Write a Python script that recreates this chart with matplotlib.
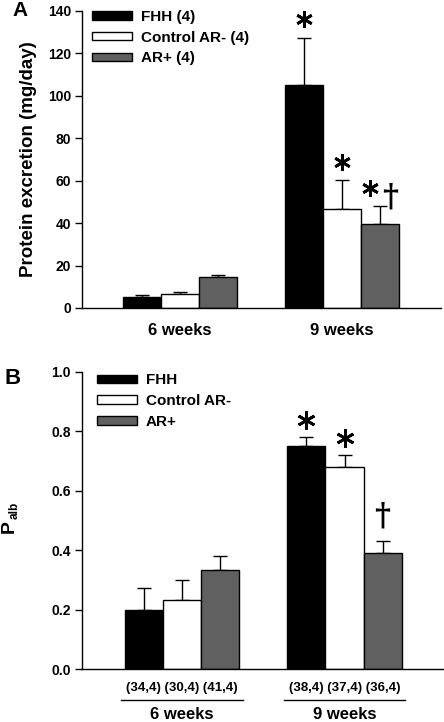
import matplotlib
matplotlib.use("Agg")
import matplotlib.pyplot as plt
import numpy as np

plt.rcParams['font.family'] = ['Liberation Sans', 'DejaVu Sans']
plt.rcParams['font.weight'] = 'bold'

groups = ["6 weeks", "9 weeks"]
series = ["FHH", "Control AR-", "AR+"]
colors = ["#000000", "#ffffff", "#606060"]

# Panel A: protein excretion (mg/day)
prot_mean = {"FHH": [5.2, 105.2], "Control AR-": [6.6, 46.7], "AR+": [14.6, 39.5]}
prot_err = {"FHH": [1.1, 22.3], "Control AR-": [0.9, 13.7], "AR+": [1.0, 8.6]}
prot_n = ["(4)", "(4)", "(4)"]

# Panel B: Palb
palb_mean = {"FHH": [0.20, 0.751], "Control AR-": [0.232, 0.681], "AR+": [0.333, 0.392]}
palb_err = {"FHH": [0.072, 0.029], "Control AR-": [0.068, 0.039], "AR+": [0.047, 0.039]}
palb_n = [["(34,4)", "(30,4)", "(41,4)"], ["(38,4)", "(37,4)", "(36,4)"]]

# significance marks (group index, series index, symbol)
marks_A = [(1, 0, "*"), (1, 1, "*"), (1, 2, "*"), (1, 2, "+")]
marks_B = [(1, 0, "*"), (1, 1, "*"), (1, 2, "+")]

W, H = 444, 722
fig = plt.figure(figsize=(W / 100, H / 100), dpi=100)

def px_axes(left, top, right, bottom):
    return fig.add_axes([left / W, 1 - bottom / H, (right - left) / W, (bottom - top) / H])

bw = 0.2346
offs = [-bw, 0, bw]
xg = np.arange(len(groups))

def style(ax):
    for s in ["top", "right"]:
        ax.spines[s].set_visible(False)
    for s in ["left", "bottom"]:
        ax.spines[s].set_linewidth(1.0)
    ax.set_xticks([])
    ax.tick_params(axis='y', direction='out', length=5, width=1, labelsize=10, pad=3)
    for t in ax.get_yticklabels():
        t.set_fontweight('bold')

def draw_bars(ax, means, errs, labels):
    handles = []
    for i, s in enumerate(series):
        b = ax.bar(xg + offs[i], means[s], bw, color=colors[i], edgecolor='black',
                   linewidth=1.0, label=labels[i], zorder=2)
        ax.errorbar(xg + offs[i], means[s], yerr=[np.zeros(2), errs[s]], fmt='none',
                    ecolor='black', elinewidth=1.0, capsize=5, capthick=1.0, zorder=1)
        handles.append(b)
    return handles

def draw_marks(ax, means, errs, marks, star_off, dag_off, ms):
    for g, si, sym in marks:
        s = series[si]
        top = means[s][g] + errs[s][g]
        x = g + offs[si]
        if sym == "*":
            xx = x
            if any(m[0] == g and m[1] == si and m[2] == "+" for m in marks):
                xx = x - 0.06
            ax.plot([xx], [top + star_off], marker=(6, 2, 0), ms=ms, mew=2.0,
                    color='black', clip_on=False, zorder=3)
        else:
            xx = x
            if any(m[0] == g and m[1] == si and m[2] == "*" for m in marks):
                xx = x + 0.06
            ax.text(xx, top + dag_off, "\u2020", ha='center', va='center',
                    fontsize=22, fontweight='bold', family='DejaVu Serif')

# ---------- Panel A ----------
axA = px_axes(82, 11, 441, 308)
hA = draw_bars(axA, prot_mean, prot_err, [f"{s} {n}" for s, n in zip(series, prot_n)])
axA.set_ylim(0, 140)
axA.set_xlim((82 - 180) / 162, (441 - 180) / 162)
axA.set_yticks(np.arange(0, 141, 20))
style(axA)
axA.set_ylabel("Protein excretion (mg/day)", fontsize=13.5, fontweight='bold', labelpad=8)
for g, name in enumerate(groups):
    axA.text(g, -10.5, name, ha='center', va='center', fontsize=12, fontweight='bold')
draw_marks(axA, prot_mean, prot_err, marks_A, 8.5, 4.0, 12)
legA = axA.legend(handles=hA, loc='upper left', bbox_to_anchor=(0.012, 1.025), frameon=False,
                  prop={'weight': 'bold', 'size': 11}, handlelength=2.6, handleheight=0.5,
                  handletextpad=0.6, labelspacing=0.45, borderaxespad=0)
fig.text(12 / W, 1 - 11 / H, "A", fontsize=15, fontweight='bold', va='center', ha='left')

# ---------- Panel B ----------
axB = px_axes(82, 371.7, 443, 669.3)
hB = draw_bars(axB, palb_mean, palb_err, series)
axB.set_ylim(0, 1.0)
axB.set_xlim((82 - 182) / 162.5, (443 - 182) / 162.5)
axB.set_yticks(np.arange(0, 1.01, 0.2))
axB.set_yticklabels([f"{v:.1f}" for v in np.arange(0, 1.01, 0.2)])
style(axB)
# y label "P" with subscript "alb", rotated
fig.text(9.5 / W, 1 - 527 / H, "P", fontsize=14, fontweight='bold', rotation=90,
         ha='center', va='center')
fig.text(14.5 / W, 1 - 510 / H, "alb", fontsize=8.5, fontweight='bold', rotation=90,
         ha='center', va='center')
for g, name in enumerate(groups):
    axB.text(g, -0.063, " ".join(palb_n[g]), ha='center', va='center', fontsize=9.5, fontweight='bold')
    axB.plot([g - 0.375, g + 0.375], [-0.103, -0.103], color='black', lw=1.0, clip_on=False)
    axB.text(g, -0.153, name, ha='center', va='center', fontsize=12, fontweight='bold')
draw_marks(axB, palb_mean, palb_err, marks_B, 0.057, 0.083, 13)
legB = axB.legend(handles=hB, loc='upper left', bbox_to_anchor=(0.025, 1.015), frameon=False,
                  prop={'weight': 'bold', 'size': 11}, handlelength=2.6, handleheight=0.5,
                  handletextpad=0.6, labelspacing=0.45, borderaxespad=0)
fig.text(5 / W, 1 - 378 / H, "B", fontsize=16, fontweight='bold', va='center', ha='left')

fig.savefig("out.png", dpi=100)
